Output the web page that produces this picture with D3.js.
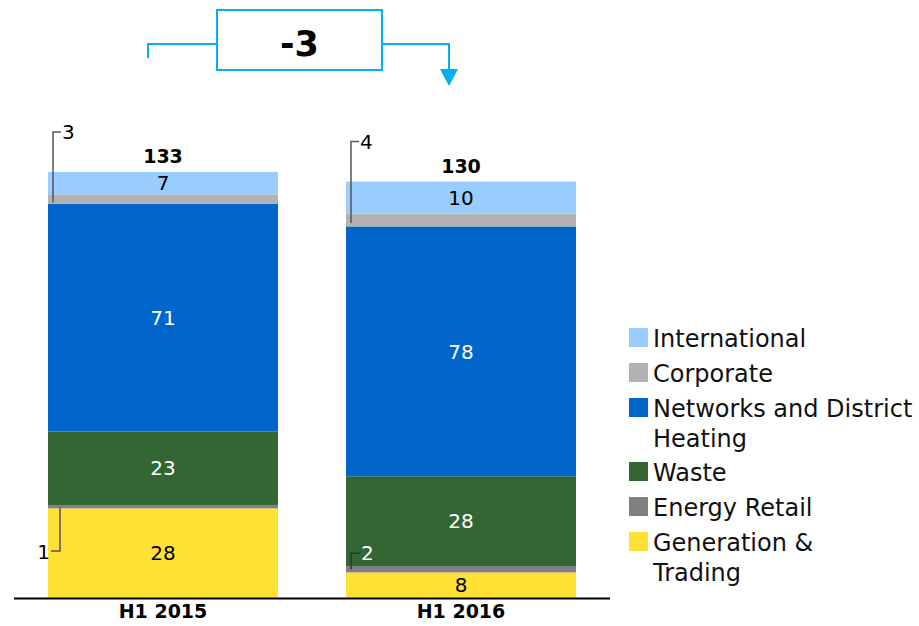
<!DOCTYPE html>
<html>
<head>
<meta charset="utf-8">
<script src="https://cdn.jsdelivr.net/npm/d3@7"></script>
<style>
  html, body { margin: 0; padding: 0; background: #fff; }
  svg { display: block; font-family: "DejaVu Sans", Verdana, sans-serif; }
</style>
</head>
<body>
<svg id="chart" width="919" height="626"></svg>
<script>
// ---- Data ----
const categories = ["H1 2015", "H1 2016"];
const seriesNames = ["Generation & Trading", "Energy Retail", "Waste", "Networks and District Heating", "Corporate", "International"];
const generationTrading = [28, 8];
const energyRetail = [1, 2];
const waste = [23, 28];
const networks = [71, 78];
const corporate = [3, 4];
const international = [7, 10];
const totals = [133, 130];
const deltaLabel = "-3";
const legendOrder = ["International", "Corporate", "Networks and District Heating", "Waste", "Energy Retail", "Generation & Trading"];
const legendLines = {
  "International": ["International"],
  "Corporate": ["Corporate"],
  "Networks and District Heating": ["Networks and District", "Heating"],
  "Waste": ["Waste"],
  "Energy Retail": ["Energy Retail"],
  "Generation & Trading": ["Generation &", "Trading"]
};
const colors = {
  "International": "#99ccff",
  "Corporate": "#b2b2b2",
  "Networks and District Heating": "#0066cc",
  "Waste": "#336633",
  "Energy Retail": "#808080",
  "Generation & Trading": "#ffe135"
};
const labelColors = {
  "International": "#000",
  "Corporate": "#000",
  "Networks and District Heating": "#fff",
  "Waste": "#fff",
  "Energy Retail": "#fff",
  "Generation & Trading": "#000"
};
const seriesValues = {
  "Generation & Trading": generationTrading,
  "Energy Retail": energyRetail,
  "Waste": waste,
  "Networks and District Heating": networks,
  "Corporate": corporate,
  "International": international
};

// ---- Build table ----
const table = categories.map((c, i) => {
  const row = { cat: c };
  seriesNames.forEach(s => row[s] = seriesValues[s][i]);
  return row;
});
const stacked = d3.stack().keys(seriesNames)(table);

const svg = d3.select("#chart");
const x = d3.scaleBand().domain(categories).range([14, 610]).paddingInner(68 / 298).paddingOuter(34 / 298);
const y = d3.scaleLinear().domain([0, 133]).range([598, 172]);

// Bars
const g = svg.append("g");
stacked.forEach(layer => {
  g.selectAll(null).data(layer).enter().append("rect")
    .attr("x", d => x(d.data.cat))
    .attr("width", x.bandwidth())
    .attr("y", d => y(d[1]))
    .attr("height", d => y(d[0]) - y(d[1]))
    .attr("fill", colors[layer.key]);
});

// Inline value labels (for segments large enough)
stacked.forEach(layer => {
  layer.forEach(d => {
    const v = d[1] - d[0];
    if (v < 5) return;
    svg.append("text")
      .attr("x", x(d.data.cat) + x.bandwidth() / 2)
      .attr("y", (y(d[0]) + y(d[1])) / 2)
      .attr("dy", "0.36em")
      .attr("text-anchor", "middle")
      .attr("font-size", 20)
      .attr("fill", labelColors[layer.key])
      .text(v);
  });
});

// Totals
categories.forEach((c, i) => {
  svg.append("text")
    .attr("x", x(c) + x.bandwidth() / 2)
    .attr("y", y(totals[i]) - 9)
    .attr("text-anchor", "middle")
    .attr("font-size", 19)
    .attr("font-weight", "bold")
    .attr("fill", "#000")
    .text(totals[i]);
});

// Axis
const axis = d3.axisBottom(x).tickSize(0).tickPadding(7);
const ax = svg.append("g").attr("transform", "translate(0,598)").call(axis);
ax.select(".domain").attr("stroke", "#000").attr("stroke-width", 2).attr("d", "M14,0.5H610");
ax.selectAll(".tick text")
  .attr("font-size", 19)
  .attr("font-weight", "bold")
  .attr("font-family", "DejaVu Sans, Verdana, sans-serif")
  .attr("fill", "#000");

// Callouts for small segments
const lineCol = "#555";
function seg(key, i) {
  const layer = stacked.find(l => l.key === key);
  return layer[i];
}
// Corporate callouts (go up)
categories.forEach((c, i) => {
  const s = seg("Corporate", i);
  const lx = x(c) + 5;
  const midY = (y(s[0]) + y(s[1])) / 2 + 3;
  const topY = y(totals[i]) - 40;
  svg.append("path")
    .attr("d", `M${lx},${midY}V${topY}H${lx + 8}`)
    .attr("fill", "none").attr("stroke", lineCol).attr("stroke-width", 1.5);
  svg.append("text")
    .attr("x", lx + 9).attr("y", topY + 7)
    .attr("font-size", 20).attr("fill", "#000")
    .text(s[1] - s[0]);
});
// Energy retail callouts
{
  const s = seg("Energy Retail", 0);
  const lx = x(categories[0]) + 12;
  const y0 = y(s[1]) + 2;
  const y1 = y0 + 44;
  svg.append("path")
    .attr("d", `M${lx},${y0}V${y1}H${lx - 9}`)
    .attr("fill", "none").attr("stroke", lineCol).attr("stroke-width", 1.5);
  svg.append("text")
    .attr("x", lx - 10).attr("y", y1 + 8)
    .attr("text-anchor", "end")
    .attr("font-size", 20).attr("fill", "#000")
    .text(s[1] - s[0]);
}
{
  const s = seg("Energy Retail", 1);
  const lx = x(categories[1]) + 5;
  const y0 = (y(s[0]) + y(s[1])) / 2;
  const y1 = y0 - 16;
  svg.append("path")
    .attr("d", `M${lx},${y0}V${y1}H${lx + 9}`)
    .attr("fill", "none").attr("stroke", "#333").attr("stroke-width", 1.5);
  svg.append("text")
    .attr("x", lx + 10).attr("y", y1 + 7)
    .attr("font-size", 20).attr("fill", "#fff")
    .text(s[1] - s[0]);
}

// Delta annotation
const blue = "#00b0f0";
const ann = svg.append("g");
const boxX = 217, boxY = 10, boxW = 165, boxH = 60, lineY = 44;
const leftX = x(categories[0]) + x.bandwidth() / 2 - 15;
const rightX = x(categories[1]) + x.bandwidth() / 2 - 12;
ann.append("rect").attr("x", boxX).attr("y", boxY).attr("width", boxW).attr("height", boxH)
  .attr("fill", "#fff").attr("stroke", blue).attr("stroke-width", 2);
ann.append("path").attr("d", `M${leftX},58V${lineY}H${boxX}`)
  .attr("fill", "none").attr("stroke", blue).attr("stroke-width", 2);
ann.append("path").attr("d", `M${boxX + boxW},${lineY}H${rightX}V70`)
  .attr("fill", "none").attr("stroke", blue).attr("stroke-width", 2);
ann.append("path").attr("d", `M${rightX - 9},69L${rightX + 9},69L${rightX},86Z`).attr("fill", blue);
ann.append("text").attr("x", boxX + boxW / 2).attr("y", lineY + 12)
  .attr("text-anchor", "middle").attr("font-size", 35).attr("font-weight", "bold").attr("fill", "#000")
  .text(deltaLabel);

// Legend
const legendY = [328, 363, 398, 462, 497, 532];
const lg = svg.append("g");
legendOrder.forEach((k, i) => {
  lg.append("rect").attr("x", 629).attr("y", legendY[i]).attr("width", 19).attr("height", 19).attr("fill", colors[k]);
  legendLines[k].forEach((ln, j) => {
    lg.append("text").attr("x", 653).attr("y", legendY[i] + 19 + j * 30)
      .attr("font-size", 24).attr("fill", "#111").text(ln);
  });
});
</script>
</body>
</html>
